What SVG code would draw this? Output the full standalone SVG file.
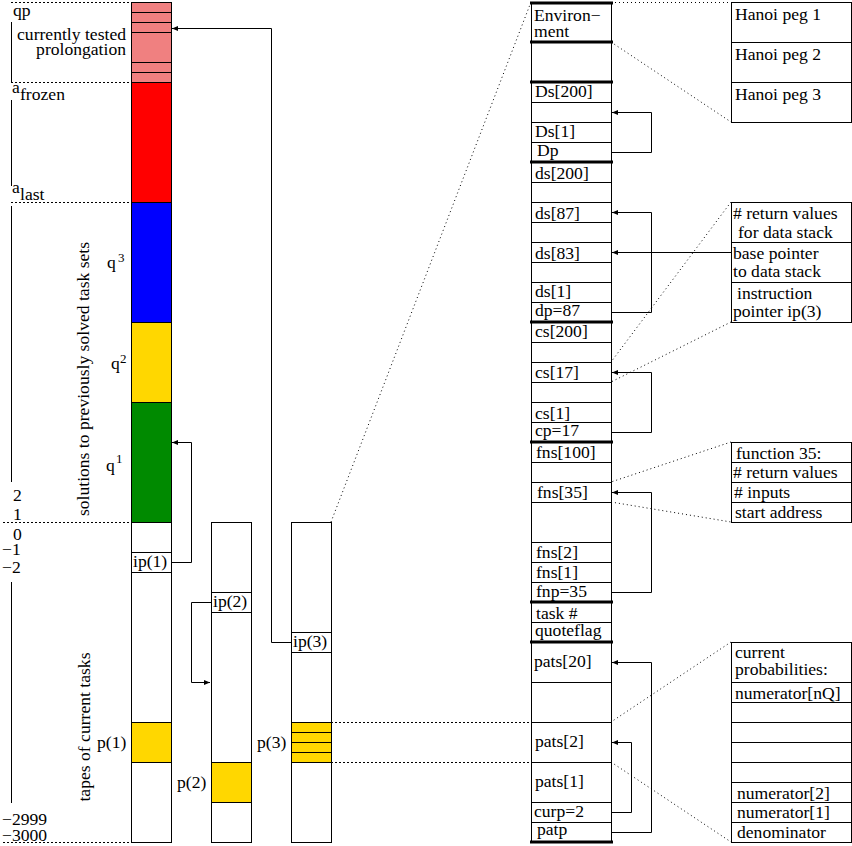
<svg xmlns="http://www.w3.org/2000/svg" width="852" height="846" viewBox="0 0 852 846">
<style>
text{font-family:"Liberation Serif","Times New Roman",serif;font-size:17.6px;fill:#000}
.c{stroke:#000;stroke-width:1}
.thin{stroke:#000;stroke-width:1;fill:none}
.thick{stroke:#000;stroke-width:3;fill:none}
.dash{stroke:#000;stroke-width:1;stroke-dasharray:2,2;fill:none}
.dot{stroke:#000;stroke-width:1;stroke-dasharray:1,3;fill:none}
.conn{stroke:#000;stroke-width:1;fill:none;marker-end:url(#ah)}
.sm{font-size:13px}
</style>
<defs>
<marker id="ah" markerWidth="7" markerHeight="6" refX="6" refY="3" orient="auto" markerUnits="userSpaceOnUse"><path d="M0,0.6 L6,3 L0,5.4 z" fill="#000"/></marker>
</defs>
<rect width="852" height="846" fill="#fff"/>

<g id="axis-labels">
<path class="dash" d="M11,2.5H131 M11,82.5H131 M11,202.5H131 M3,522.5H131 M3,842.5H131"/>
<path class="thin" d="M11.5,22V82 M11.5,100V186 M11.5,206V482 M11.5,582V803"/>
<text x="13" y="16">qp</text>
<text x="126" y="40" text-anchor="end">currently tested</text>
<text x="126" y="55" text-anchor="end">prolongation</text>
<text x="12" y="93" font-size="15">a</text><text x="20" y="100">frozen</text>
<text x="12" y="193" font-size="15">a</text><text x="20" y="200">last</text>
<text x="89" y="379" text-anchor="middle" transform="rotate(-90 89 379)">solutions to previously solved task sets</text>
<text x="90" y="727" text-anchor="middle" transform="rotate(-90 90 727)">tapes of current tasks</text>
<text x="107" y="268">q</text><text x="118" y="262" class="sm">3</text>
<text x="111" y="369">q</text><text x="120" y="363" class="sm">2</text>
<text x="106" y="471">q</text><text x="116" y="463" class="sm">1</text>
<text x="13" y="501">2</text>
<text x="13" y="520">1</text>
<text x="13" y="540">0</text>
<text x="2" y="555">−1</text>
<text x="2" y="573">−2</text>
<text x="2" y="825">−2999</text>
<text x="2" y="841">−3000</text>
</g>

<g id="tape1">
<rect class="c" x="131.5" y="2.5" width="40" height="80" fill="#f08080"/>
<rect class="c" x="131.5" y="82.5" width="40" height="120" fill="#ff0000"/>
<rect class="c" x="131.5" y="202.5" width="40" height="120" fill="#0000ff"/>
<rect class="c" x="131.5" y="322.5" width="40" height="80" fill="#ffd700"/>
<rect class="c" x="131.5" y="402.5" width="40" height="120" fill="#008a00"/>
<rect class="c" x="131.5" y="522.5" width="40" height="320" fill="#fff"/>
<rect class="c" x="131.5" y="722.5" width="40" height="40" fill="#ffd700"/>
<path class="thin" d="M131,12.5H172 M131,22.5H172 M131,32.5H172 M131,62.5H172 M131,72.5H172 M131,552.5H172 M131,572.5H172"/>
<text x="133" y="567">ip(1)</text>
<text x="97" y="748">p(1)</text>
</g>

<g id="tape2">
<rect class="c" x="211.5" y="522.5" width="40" height="320" fill="#fff"/>
<rect class="c" x="211.5" y="762.5" width="40" height="40" fill="#ffd700"/>
<path class="thin" d="M211,592.5H252 M211,612.5H252"/>
<text x="213" y="607">ip(2)</text>
<text x="177" y="788">p(2)</text>
</g>

<g id="tape3">
<rect class="c" x="291.5" y="522.5" width="40" height="320" fill="#fff"/>
<rect class="c" x="291.5" y="722.5" width="40" height="40" fill="#ffd700"/>
<path class="thin" d="M291,632.5H332 M291,652.5H332 M291,732.5H332 M291,742.5H332 M291,752.5H332"/>
<text x="293" y="647">ip(3)</text>
<text x="257" y="748">p(3)</text>
</g>

<g id="memory">
<rect class="c" x="531.5" y="2.5" width="80" height="840" fill="#fff"/>
<path class="thin" d="M531,102.5H612 M531,122.5H612 M531,142.5H612 M531,182.5H612 M531,202.5H612 M531,222.5H612 M531,242.5H612 M531,262.5H612 M531,282.5H612 M531,302.5H612 M531,342.5H612 M531,362.5H612 M531,382.5H612 M531,402.5H612 M531,422.5H612 M531,462.5H612 M531,482.5H612 M531,502.5H612 M531,542.5H612 M531,562.5H612 M531,582.5H612 M531,622.5H612 M531,682.5H612 M531,722.5H612 M531,762.5H612 M531,802.5H612 M531,822.5H612"/>
<path class="thick" d="M530,3H613 M530,42H613 M530,82H613 M530,162H613 M530,322H613 M530,442H613 M530,602H613 M530,642H613 M530,842H613"/>
<text x="534" y="21">Environ−</text>
<text x="534" y="37">ment</text>
<text x="535" y="97">Ds[200]</text>
<text x="535" y="137">Ds[1]</text>
<text x="537" y="156">Dp</text>
<text x="535" y="179">ds[200]</text>
<text x="535" y="219">ds[87]</text>
<text x="535" y="259">ds[83]</text>
<text x="535" y="297">ds[1]</text>
<text x="535" y="316">dp=87</text>
<text x="535" y="337">cs[200]</text>
<text x="535" y="378">cs[17]</text>
<text x="535" y="419">cs[1]</text>
<text x="535" y="436">cp=17</text>
<text x="536" y="458">fns[100]</text>
<text x="537" y="498">fns[35]</text>
<text x="536" y="558">fns[2]</text>
<text x="536" y="578">fns[1]</text>
<text x="536" y="597">fnp=35</text>
<text x="536" y="619">task #</text>
<text x="535" y="636">quoteflag</text>
<text x="534" y="667">pats[20]</text>
<text x="535" y="747">pats[2]</text>
<text x="535" y="787">pats[1]</text>
<text x="534" y="817">curp=2</text>
<text x="537" y="835">patp</text>
</g>

<g id="hanoi-box">
<rect class="c" x="731.5" y="2.5" width="120" height="120" fill="#fff"/>
<path class="thin" d="M731,42.5H852 M731,82.5H852"/>
<text x="735" y="20">Hanoi peg 1</text>
<text x="735" y="60">Hanoi peg 2</text>
<text x="735" y="100">Hanoi peg 3</text>
</g>

<g id="frame-box">
<rect class="c" x="731.5" y="202.5" width="120" height="120" fill="#fff"/>
<path class="thin" d="M731,242.5H852 M731,282.5H852"/>
<text x="733" y="219">#  return values</text>
<text x="738" y="238">for data stack</text>
<text x="733" y="259">base pointer</text>
<text x="733" y="277">to data stack</text>
<text x="737" y="299">instruction</text>
<text x="733" y="317">pointer ip(3)</text>
</g>

<g id="function-box">
<rect class="c" x="731.5" y="442.5" width="120" height="80" fill="#fff"/>
<path class="thin" d="M731,462.5H852 M731,482.5H852 M731,502.5H852"/>
<text x="736" y="459">function 35:</text>
<text x="733" y="478"># return values</text>
<text x="734" y="498"># inputs</text>
<text x="735" y="518">start address</text>
</g>

<g id="prob-box">
<rect class="c" x="731.5" y="642.5" width="120" height="200" fill="#fff"/>
<path class="thin" d="M731,682.5H852 M731,702.5H852 M731,722.5H852 M731,742.5H852 M731,762.5H852 M731,782.5H852 M731,802.5H852 M731,822.5H852"/>
<text x="735" y="658">current</text>
<text x="735" y="675">probabilities:</text>
<text x="735" y="699">numerator[nQ]</text>
<text x="737" y="799">numerator[2]</text>
<text x="737" y="818">numerator[1]</text>
<text x="737" y="838">denominator</text>
</g>

<g id="connectors">
<path class="conn" d="M171,562.5H191.5V442.5H172"/>
<path class="conn" d="M211,602.5H191.5V682.5H210"/>
<path class="conn" d="M291,642.5H271.5V28.5H172"/>
<path class="conn" d="M611,152.5H651.5V112.5H612"/>
<path class="conn" d="M611,312.5H651.5V212.5H612"/>
<path class="conn" d="M731,252.5H612"/>
<path class="conn" d="M611,432.5H651.5V372.5H612"/>
<path class="conn" d="M611,592.5H651.5V492.5H612"/>
<path class="conn" d="M611,832.5H651.5V662.5H612"/>
<path class="conn" d="M611,812.5H631.5V742.5H612"/>
<path class="dot" d="M331,522L531,2"/>
<path class="dash" d="M331,722.5H531 M331,762.5H531"/>
<path class="dot" d="M611,2.5H731 M611,42L731,122"/>
<path class="dot" d="M731,202L611,362 M731,322L611,382"/>
<path class="dot" d="M731,442L611,482 M611,502L731,522"/>
<path class="dot" d="M731,642L611,722 M611,762L731,842"/>
</g>
</svg>
